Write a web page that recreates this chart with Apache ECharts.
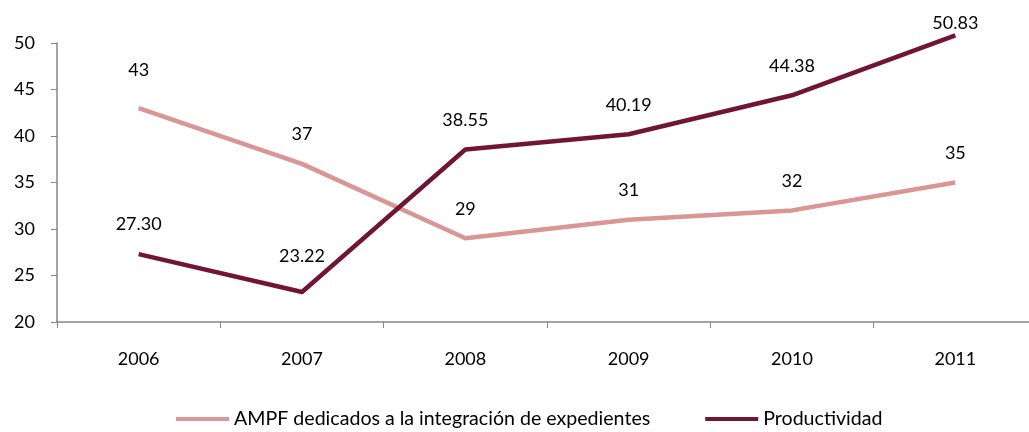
<!DOCTYPE html>
<html>
<head>
<meta charset="utf-8">
<script src="https://cdn.jsdelivr.net/npm/echarts@6/dist/echarts.min.js"></script>
<style>
  html, body { margin: 0; padding: 0; background: #fff; }
  #chart { width: 1029px; height: 432px; }
</style>
</head>
<body>
<div id="chart"></div>
<script>
  // datos
  const years = ['2006', '2007', '2008', '2009', '2010', '2011']
  const ampf = [43, 37, 29, 31, 32, 35]
  const productividad = [27.30, 23.22, 38.55, 40.19, 44.38, 50.83]
  const seriesNames = ['AMPF dedicados a la integración de expedientes', 'Productividad']

  const font = 'Lato, "Open Sans", sans-serif'
  const colors = ['#D99694', '#701634']

  // algunas etiquetas van más arriba / abajo que el resto
  const labelShift = { '0-0': -8, '1-1': -6, '1-5': 17 }

  function buildData (values, s, decimals) {
    return values.map((v, i) => {
      const shift = labelShift[s + '-' + i] || 0
      return {
        value: v,
        label: { offset: [0, shift], formatter: () => v.toFixed(decimals) }
      }
    })
  }

  const lineSeries = (name, data, color) => ({
    name: name,
    type: 'line',
    data: data,
    clip: false,
    symbol: 'circle',
    symbolSize: 1,
    showSymbol: true,
    itemStyle: { color: 'transparent', borderWidth: 0 },
    lineStyle: { width: 4.5, color: color },
    label: { show: true, position: 'top', distance: 20, fontSize: 18, color: '#000', fontFamily: font }
  })

  const myChart = echarts.init(document.getElementById('chart'))
  myChart.setOption({
    animation: false,
    color: colors,
    textStyle: { fontFamily: font },
    grid: { left: 57, width: 980, top: 43, bottom: 110, outerBoundsMode: 'none', containLabel: false },
    legend: {
      top: 409,
      left: 176,
      padding: 0,
      itemWidth: 53,
      itemHeight: 4,
      itemGap: 55,
      icon: 'rect',
      textStyle: { fontSize: 19.6, color: '#000', fontFamily: font },
      data: seriesNames.map((n, i) => ({ name: n, itemStyle: { color: colors[i] } }))
    },
    xAxis: {
      type: 'category',
      data: years,
      boundaryGap: true,
      axisLine: { lineStyle: { color: '#868686', width: 1.5 } },
      axisTick: { show: true, length: 6, lineStyle: { color: '#868686' } },
      axisLabel: { fontSize: 18, color: '#000', margin: 28 }
    },
    yAxis: {
      type: 'value',
      min: 20,
      max: 50,
      interval: 5,
      splitLine: { show: false },
      axisLine: { show: true, lineStyle: { color: '#868686', width: 1.5 } },
      axisTick: { show: true, length: 6, lineStyle: { color: '#868686' } },
      axisLabel: { fontSize: 18, color: '#000', margin: 22 }
    },
    series: [
      lineSeries(seriesNames[0], buildData(ampf, 0, 0), colors[0]),
      lineSeries(seriesNames[1], buildData(productividad, 1, 2), colors[1])
    ]
  })
</script>
</body>
</html>
